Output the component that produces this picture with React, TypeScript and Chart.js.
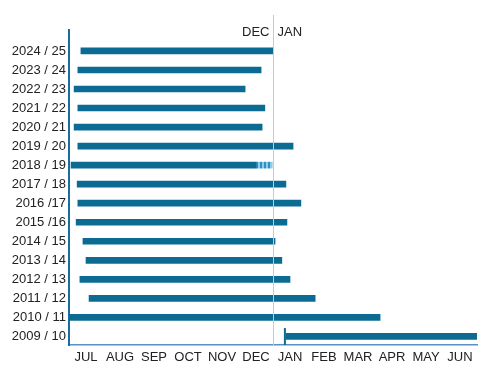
import React, { useEffect, useRef } from "react";
import { Chart, registerables } from "chart.js";
Chart.register(...registerables);

// bottom (index 0) to top
const seasons = [
  "2009 / 10", "2010 / 11", "2011 / 12", "2012 / 13", "2013 / 14", "2014 / 15",
  "2015 /16", "2016 /17", "2017 / 18", "2018 / 19", "2019 / 20", "2020 / 21",
  "2021 / 22", "2022 / 23", "2023 / 24", "2024 / 25",
];
// months since 1 July
const starts = [6.38, 0, 0.59, 0.32, 0.5, 0.41, 0.21, 0.26, 0.24, 0.06, 0.26, 0.15, 0.26, 0.15, 0.26, 0.35];
const ends = [12, 9.15, 7.24, 6.5, 6.26, 6.06, 6.41, 6.82, 6.38, 5.5, 6.59, 5.68, 5.76, 5.18, 5.65, 6.0];
// partial (faded) extension
const partialStarts = [null, null, null, null, null, null, null, null, null, 5.5, null, null, null, null, null, null];
const partialEnds = [null, null, null, null, null, null, null, null, null, 5.97, null, null, null, null, null, null];
const months = ["JUL", "AUG", "SEP", "OCT", "NOV", "DEC", "JAN", "FEB", "MAR", "APR", "MAY", "JUN"];
const yearBoundary = 6;
const markerX = 6.35;

const FONT = "'Liberation Sans', Arial, sans-serif";

export default function App() {
  const ref = useRef<HTMLCanvasElement>(null);
  useEffect(() => {
    const canvas = ref.current!;
    const pc = document.createElement("canvas");
    pc.width = 4;
    pc.height = 2;
    const pctx = pc.getContext("2d")!;
    pctx.fillStyle = "#2f8fbf";
    pctx.fillRect(0, 0, 2, 2);
    pctx.fillStyle = "#8ccbe6";
    pctx.fillRect(2, 0, 2, 2);
    const pattern = canvas.getContext("2d")!.createPattern(pc, "repeat")!;

    const overlay = {
      id: "overlay",
      afterDatasetsDraw(chart: any) {
        const { ctx, chartArea, scales } = chart;
        const x = Math.round(scales.x.getPixelForValue(yearBoundary)) + 0.5;
        ctx.save();
        ctx.strokeStyle = "#c3ccd4";
        ctx.lineWidth = 1;
        ctx.beginPath();
        ctx.moveTo(x, chartArea.top - 15);
        ctx.lineTo(x, chartArea.bottom);
        ctx.stroke();
        ctx.fillStyle = "#222";
        ctx.font = `13px ${FONT}`;
        ctx.textBaseline = "middle";
        ctx.textAlign = "right";
        ctx.fillText(months[5], x - 4, chartArea.top + 2);
        ctx.textAlign = "left";
        ctx.fillText(months[6], x + 4, chartArea.top + 2);
        ctx.restore();
      },
    };

    const chart = new Chart(canvas, {
      type: "bar",
      data: {
        datasets: [
          {
            type: "bar",
            data: seasons.map((_, i) => ({ x: [starts[i], ends[i]], y: i })) as any,
            backgroundColor: "#0b6b93",
            barThickness: 6,
            grouped: false,
          } as any,
          {
            type: "bar",
            data: seasons
              .map((_, i) => (partialStarts[i] == null ? null : { x: [partialStarts[i], partialEnds[i]], y: i }))
              .filter((d) => d) as any,
            backgroundColor: pattern as any,
            barThickness: 6,
            grouped: false,
          } as any,
          {
            type: "line",
            data: [
              { x: markerX, y: -0.45 },
              { x: markerX, y: 0.44 },
            ],
            borderColor: "#0b6b93",
            borderWidth: 2,
            pointRadius: 0,
          } as any,
        ],
      },
      options: {
        indexAxis: "y",
        animation: false,
        responsive: false,
        layout: { padding: { top: 30, right: 23, left: 0, bottom: 0 } },
        plugins: { legend: { display: false }, tooltip: { enabled: false } },
        scales: {
          x: {
            type: "linear",
            min: 0,
            max: 12,
            offset: false,
            afterBuildTicks: (s: any) => {
              s.ticks = months.map((_, i) => ({ value: i + 0.5 }));
            },
            ticks: {
              callback: (v: any) => months[Math.floor(Number(v))],
              color: "#222",
              font: { family: FONT, size: 13 },
              padding: 5,
              maxRotation: 0,
              autoSkip: false,
            },
            grid: { display: false, drawTicks: false },
            border: { display: true, color: "#5a8fc4", width: 1.5 },
            afterFit: (s: any) => {
              s.height = 31;
            },
          },
          y: {
            type: "linear",
            min: -0.45,
            max: 16.1,
            offset: false,
            afterBuildTicks: (s: any) => {
              s.ticks = seasons.map((_, i) => ({ value: i }));
            },
            ticks: {
              callback: (v: any) => seasons[Number(v)],
              color: "#222",
              font: { family: FONT, size: 13 },
              padding: 3,
              autoSkip: false,
            },
            grid: { display: false, drawTicks: false },
            border: { display: true, color: "#1a6e9e", width: 2 },
            afterFit: (s: any) => {
              s.width = 69;
            },
          },
        },
      },
      plugins: [overlay],
    });
    return () => chart.destroy();
  }, []);
  return (
    <div style={{ position: "fixed", left: 0, top: 0, width: 500, height: 376, background: "#fff" }}>
      <canvas ref={ref} width={500} height={376} style={{ width: 500, height: 376 }} />
    </div>
  );
}
